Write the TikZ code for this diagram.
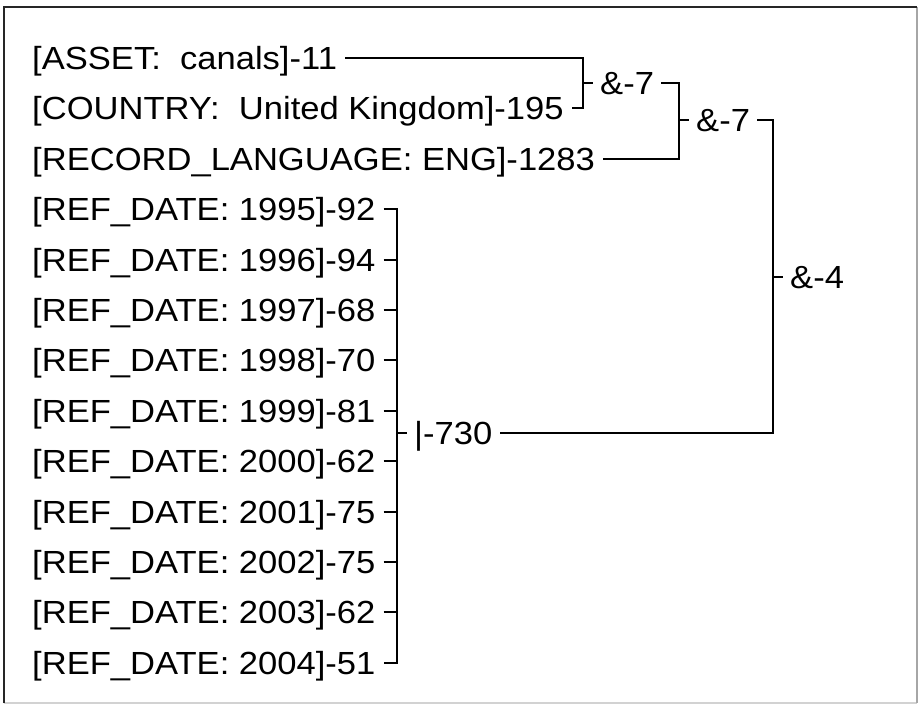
\documentclass[tikz,border=0pt]{standalone}
\usepackage{fontspec}
\setmainfont{Liberation Sans}[FakeStretch=1.08]
\usetikzlibrary{positioning, calc}

\begin{document}
\begin{tikzpicture}[
    x=1pt, y=-1pt,
    node distance=27pt,
    term/.style={anchor=west, inner xsep=8pt, inner ysep=0pt, text height=23pt, text depth=0pt, font=\fontsize{32}{38}\selectfont},
    op/.style={term, inner xsep=7pt},
    link/.style={line width=2pt, line join=miter}
]
    \useasboundingbox (0,0) rectangle (919,706);
    \fill[white] (0,0) rectangle (919,706);
    % frame
    \draw[gray!35, line width=1.5pt] (4,703) -- (917,703);
    \draw[gray!70, line width=1.5pt] (917,7) -- (917,703);
    \draw[black!85, line width=2.5pt] (4,703) -- (4,7) -- (917,7);
    % terms
    \node[term] (asset) at (24,58) {[ASSET:~\ canals]-11};
    \node[term, below=of asset.south west, anchor=north west] (country) {[COUNTRY:~\ United Kingdom]-195};
    \node[term, below=of country.south west, anchor=north west] (reclang) {[RECORD\_LANGUAGE: ENG]-1283};
    \node[term, below=of reclang.south west, anchor=north west] (d1995) {[REF\_DATE: 1995]-92};
    \node[term, below=of d1995.south west, anchor=north west] (d1996) {[REF\_DATE: 1996]-94};
    \node[term, below=of d1996.south west, anchor=north west] (d1997) {[REF\_DATE: 1997]-68};
    \node[term, below=of d1997.south west, anchor=north west] (d1998) {[REF\_DATE: 1998]-70};
    \node[term, below=of d1998.south west, anchor=north west] (d1999) {[REF\_DATE: 1999]-81};
    \node[term, below=of d1999.south west, anchor=north west] (d2000) {[REF\_DATE: 2000]-62};
    \node[term, below=of d2000.south west, anchor=north west] (d2001) {[REF\_DATE: 2001]-75};
    \node[term, below=of d2001.south west, anchor=north west] (d2002) {[REF\_DATE: 2002]-75};
    \node[term, below=of d2002.south west, anchor=north west] (d2003) {[REF\_DATE: 2003]-62};
    \node[term, below=of d2003.south west, anchor=north west] (d2004) {[REF\_DATE: 2004]-51};
    % bracket columns
    \coordinate (b1) at (583,0);
    \coordinate (b2) at (679,0);
    \coordinate (b3) at (773,0);
    \coordinate (b4) at (397,0);
    % operators
    \node[op] (and1) at (593,83) {\&-7};
    \node[op] (and2) at (689,120.5) {\&-7};
    \node[op] (or1) at (407,433) {\textbar-730};
    \node[op] (and3) at (783,277) {\&-4};
    % brackets
    \draw[link] (asset.east) -| (b1 |- country.east) -- (country.east);
    \draw[link] (b1 |- and1.west) -- (and1.west);
    \draw[link] (and1.east) -| (b2 |- reclang.east) -- (reclang.east);
    \draw[link] (b2 |- and2.west) -- (and2.west);
    \draw[link] (d1995.east) -| (b4 |- d2004.east) -- (d2004.east);
    \draw[link] (d1996.east) -- (b4 |- d1996.east);
    \draw[link] (d1997.east) -- (b4 |- d1997.east);
    \draw[link] (d1998.east) -- (b4 |- d1998.east);
    \draw[link] (d1999.east) -- (b4 |- d1999.east);
    \draw[link] (d2000.east) -- (b4 |- d2000.east);
    \draw[link] (d2001.east) -- (b4 |- d2001.east);
    \draw[link] (d2002.east) -- (b4 |- d2002.east);
    \draw[link] (d2003.east) -- (b4 |- d2003.east);
    \draw[link] (b4 |- or1.west) -- (or1.west);
    \draw[link] (and2.east) -| (b3 |- or1.east) -- (or1.east);
    \draw[link] (b3 |- and3.west) -- (and3.west);
\end{tikzpicture}
\end{document}
